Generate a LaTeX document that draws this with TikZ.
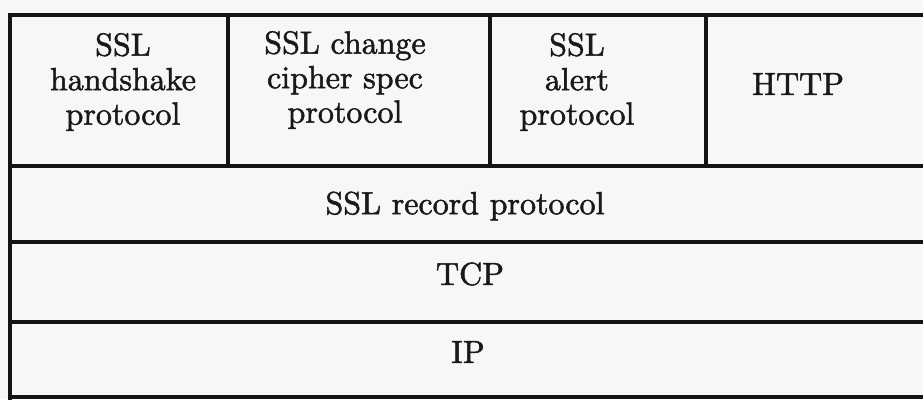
\documentclass[tikz,border=0pt]{standalone}
\usepackage{fontspec}
\newfontfamily\heavyfont{lmroman10-regular.otf}[FakeBold=1.6]
\begin{document}
\begin{tikzpicture}[x=1pt,y=-1pt,
  rule/.style={line width=3.4pt,draw=black!92},
  lbl/.style={align=center,font=\heavyfont\fontsize{32}{34.5}\selectfont,text=black!90,inner sep=0pt}]
\useasboundingbox (0,0) rectangle (923,399);
\fill[black!3] (0,0) rectangle (923,399);
\begin{scope}
\clip (0,0) rectangle (923,399);
% outer frame and row separators
\draw[rule] (935,15) -- (10,15) -- (10,405);
\draw[rule] (10,166) -- (935,166);
\draw[rule] (10,242) -- (935,242);
\draw[rule] (10,322) -- (935,322);
\draw[rule] (10,397) -- (935,397);
% column separators
\draw[rule] (228,15) -- (228,166);
\draw[rule] (490,15) -- (490,166);
\draw[rule] (706,15) -- (706,166);
\end{scope}
\node[lbl] (hs) at (123,82) {SSL\\handshake\\protocol};
\node[lbl] (ccs) at (345,80) {SSL change\\cipher spec\\protocol};
\node[lbl] (al) at (577,82) {SSL\\alert\\protocol};
\node[lbl] (http) at (798,84) {HTTP};
\node[lbl] (rec) at (465,206) {SSL record protocol};
\node[lbl] (tcp) at (470,274) {TCP};
\node[lbl] (ip) at (468,352) {IP};
\end{tikzpicture}
\end{document}
